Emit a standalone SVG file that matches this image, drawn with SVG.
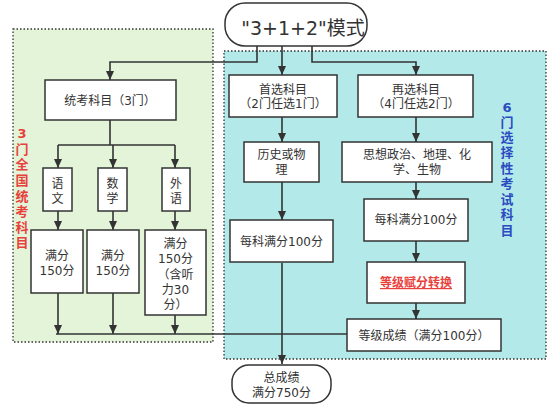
<svg xmlns="http://www.w3.org/2000/svg" width="554" height="406" viewBox="0 0 554 406">
<defs>
<marker id="ah" markerWidth="10" markerHeight="10" refX="9" refY="5" orient="auto" markerUnits="userSpaceOnUse">
<path d="M0,1 L9,5 L0,9 Z" fill="#333"/>
</marker>
<style>
.reg{stroke:#333;stroke-width:1.3;stroke-dasharray:1.5 2}
.box{fill:#fff;stroke:#333;stroke-width:1.5}
.t{font-family:"DejaVu Sans","Noto Sans CJK SC",sans-serif;font-size:12px;fill:#333;text-anchor:middle}
.c{fill:none;stroke:#333;stroke-width:1.6}
.a{marker-end:url(#ah)}
.vr{font-family:"DejaVu Sans","Noto Sans CJK SC",sans-serif;font-size:13px;font-weight:bold;fill:#e8413c;text-anchor:middle}
.vb{font-family:"DejaVu Sans","Noto Sans CJK SC",sans-serif;font-size:13px;font-weight:bold;fill:#2a4cc0;text-anchor:middle}
</style>
</defs>
<rect width="554" height="406" fill="#fff"/>
<g id="region-left">
<rect x="13" y="29" width="200" height="313" fill="#e3f4d9" class="reg"/>
<text class="vr"><tspan x="22" y="138">3</tspan><tspan x="22" y="154">门</tspan><tspan x="22" y="169">全</tspan><tspan x="22" y="185">国</tspan><tspan x="22" y="201">统</tspan><tspan x="22" y="216">考</tspan><tspan x="22" y="232">科</tspan><tspan x="22" y="247">目</tspan></text>
</g>
<g id="region-right">
<rect x="224" y="51" width="322" height="308" fill="#b4e9ea" class="reg"/>
<text class="vb"><tspan x="507" y="112">6</tspan><tspan x="507" y="127">门</tspan><tspan x="507" y="142">选</tspan><tspan x="507" y="157">择</tspan><tspan x="507" y="173">性</tspan><tspan x="507" y="188">考</tspan><tspan x="507" y="204">试</tspan><tspan x="507" y="219">科</tspan><tspan x="507" y="235">目</tspan></text>
</g>
<g id="connectors">
<path class="c a" d="M257,46 V62 H110 V80"/>
<path class="c a" d="M282,46 V75"/>
<path class="c a" d="M312,46 V62 H416 V75"/>
<path class="c" d="M110,120 V145 M58,145 H175"/>
<path class="c a" d="M58,145 V168"/>
<path class="c a" d="M113,145 V168"/>
<path class="c a" d="M175,145 V168"/>
<path class="c a" d="M58,211 V230"/>
<path class="c a" d="M113,211 V230"/>
<path class="c a" d="M175,211 V230"/>
<path class="c a" d="M58,293 V334"/>
<path class="c a" d="M113,293 V334"/>
<path class="c a" d="M175,315 V334"/>
<path class="c" d="M56,334 H347"/>
<path class="c a" d="M282,117 V142"/>
<path class="c a" d="M282,182 V220"/>
<path class="c a" d="M282,263 V364"/>
<path class="c a" d="M416,117 V142"/>
<path class="c a" d="M416,182 V199"/>
<path class="c a" d="M416,241 V262"/>
<path class="c a" d="M416,303 V319"/>
</g>
<g id="n-mode">
<rect x="225" y="3" width="142" height="43" rx="20" ry="20" class="box"/>
<text class="t" x="303" y="35" style="font-size:19px">"3+1+2"模式</text>
</g>
<g id="n-tongkao">
<rect x="45" y="80" width="131" height="40" class="box"/>
<text class="t" x="110" y="105">统考科目（3门）</text>
</g>
<g id="n-shouxuan">
<rect x="229" y="75" width="108" height="42" class="box"/>
<text class="t"><tspan x="283" y="94">首选科目</tspan><tspan x="283" y="108">（2门任选1门）</tspan></text>
</g>
<g id="n-zaixuan">
<rect x="358" y="75" width="115" height="42" class="box"/>
<text class="t"><tspan x="416" y="94">再选科目</tspan><tspan x="416" y="108">（4门任选2门）</tspan></text>
</g>
<g id="n-yuwen">
<rect x="43" y="168" width="29" height="43" class="box"/>
<text class="t"><tspan x="57.5" y="188">语</tspan><tspan x="57.5" y="203">文</tspan></text>
</g>
<g id="n-shuxue">
<rect x="98" y="168" width="29" height="43" class="box"/>
<text class="t"><tspan x="112.5" y="188">数</tspan><tspan x="112.5" y="203">学</tspan></text>
</g>
<g id="n-waiyu">
<rect x="162" y="168" width="28" height="43" class="box"/>
<text class="t"><tspan x="176" y="188">外</tspan><tspan x="176" y="203">语</tspan></text>
</g>
<g id="n-score1">
<rect x="31" y="230" width="52" height="63" class="box"/>
<text class="t"><tspan x="57" y="260">满分</tspan><tspan x="57" y="275">150分</tspan></text>
</g>
<g id="n-score2">
<rect x="87" y="230" width="52" height="63" class="box"/>
<text class="t"><tspan x="113" y="260">满分</tspan><tspan x="113" y="275">150分</tspan></text>
</g>
<g id="n-score3">
<rect x="145" y="230" width="61" height="85" class="box"/>
<text class="t"><tspan x="175.5" y="248">满分</tspan><tspan x="175.5" y="263">150分</tspan><tspan x="175.5" y="279">（含听</tspan><tspan x="175.5" y="294">力30</tspan><tspan x="175.5" y="309">分）</tspan></text>
</g>
<g id="n-lishi">
<rect x="244" y="142" width="75" height="40" class="box"/>
<text class="t"><tspan x="281.5" y="159">历史或物</tspan><tspan x="281.5" y="174">理</tspan></text>
</g>
<g id="n-sixiang">
<rect x="342" y="142" width="150" height="40" class="box"/>
<text class="t"><tspan x="417" y="159">思想政治、地理、化</tspan><tspan x="417" y="174">学、生物</tspan></text>
</g>
<g id="n-mid100">
<rect x="230" y="220" width="103" height="42" class="box"/>
<text class="t" x="281.5" y="246">每科满分100分</text>
</g>
<g id="n-right100">
<rect x="364" y="199" width="104" height="42" class="box"/>
<text class="t" x="416" y="224">每科满分100分</text>
</g>
<g id="n-fufen">
<rect x="367" y="262" width="98" height="41" class="box"/>
<text class="t" x="416" y="287" style="fill:#e8413c;font-weight:bold;text-decoration:underline">等级赋分转换</text>
</g>
<g id="n-dengji">
<rect x="347" y="319" width="154" height="32" class="box"/>
<text class="t" x="424" y="340">等级成绩（满分100分）</text>
</g>
<g id="n-total">
<rect x="232" y="365" width="99" height="38" rx="17" ry="17" class="box"/>
<text class="t"><tspan x="281.5" y="382">总成绩</tspan><tspan x="281.5" y="397">满分750分</tspan></text>
</g>
</svg>
